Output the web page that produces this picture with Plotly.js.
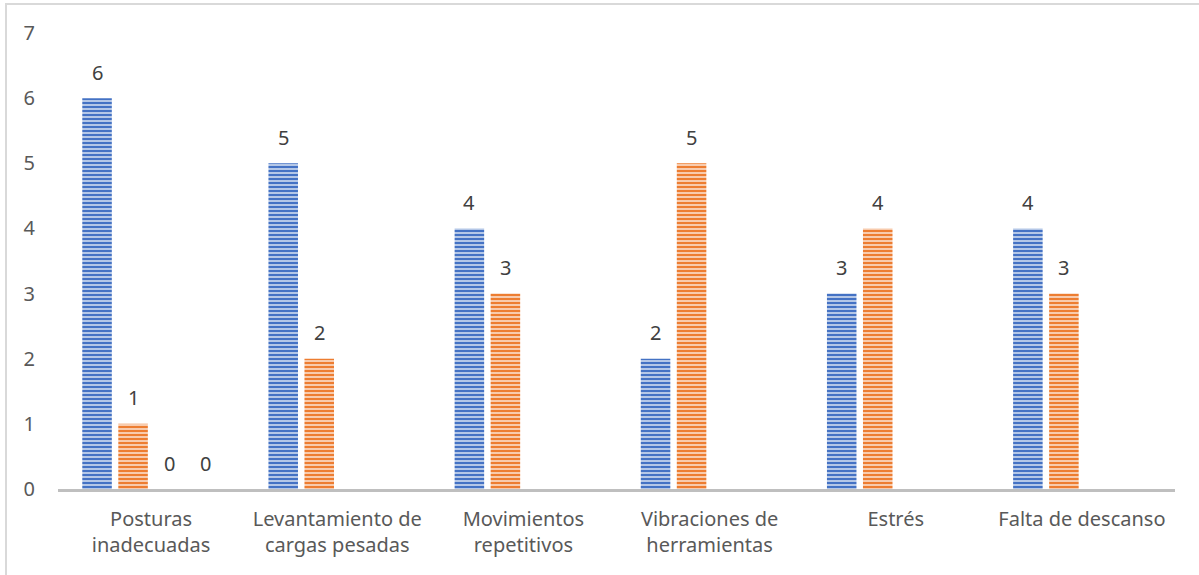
<!DOCTYPE html>
<html>
<head>
<meta charset="utf-8">
<script src="https://cdn.plot.ly/plotly-3.0.1.min.js"></script>
<style>
  html, body { margin: 0; padding: 0; background: #fff; }
  #frame {
    position: absolute; left: 5px; top: 3px; width: 1300px; height: 700px;
    border-left: 2px solid #D9D9D9; border-top: 2px solid #D9D9D9;
  }
  #chart { position: absolute; left: 0; top: 0; width: 1199px; height: 575px; }
</style>
</head>
<body>
<div id="frame"></div>
<div id="chart"></div>
<script>
// categorías del eje x
const categories = [
  'Posturas<br>inadecuadas',
  'Levantamiento de<br>cargas pesadas',
  'Movimientos<br>repetitivos',
  'Vibraciones de<br>herramientas',
  'Estrés',
  'Falta de descanso'
];

// series (las dos últimas solo tienen valor en la primera categoría)
const serie1 = [6, 5, 4, 2, 3, 4];
const serie2 = [1, 2, 3, 5, 4, 3];
const serie3 = [0, null, null, null, null, null];
const serie4 = [0, null, null, null, null, null];

const yTicks = [0, 1, 2, 3, 4, 5, 6, 7];

const seriesList = [
  { name: 'Serie 1', values: serie1, fg: '#4472C4', bg: '#B4C7E7' },
  { name: 'Serie 2', values: serie2, fg: '#ED7D31', bg: '#F8CBAD' },
  { name: 'Serie 3', values: serie3, fg: '#A5A5A5', bg: '#DBDBDB' },
  { name: 'Serie 4', values: serie4, fg: '#FFC000', bg: '#FFE699' }
];

const traces = seriesList.map(s => ({
  type: 'bar',
  name: s.name,
  x: categories,
  y: s.values,
  marker: {
    color: s.bg,
    line: { width: 0 },
    pattern: { shape: '-', size: 4, solidity: 0.5, fgcolor: s.fg, bgcolor: s.bg, fillmode: 'replace' }
  },
  hoverinfo: 'x+y'
}));

// etiquetas de datos encima de cada barra
const slotOffsets = [-54, -18, 18, 54];
const annotations = [];
seriesList.forEach((s, i) => {
  s.values.forEach((v, j) => {
    if (v === null) return;
    annotations.push({
      x: categories[j],
      y: v,
      xref: 'x',
      yref: 'y',
      text: String(v),
      showarrow: false,
      xshift: slotOffsets[i],
      yshift: 26,
      yanchor: 'middle',
      font: { family: 'Noto Sans, sans-serif', size: 20, color: '#404040' }
    });
  });
});

const layout = {
  width: 1199,
  height: 575,
  margin: { l: 58, r: 24, t: 33, b: 86 },
  paper_bgcolor: 'rgba(0,0,0,0)',
  plot_bgcolor: 'rgba(0,0,0,0)',
  barmode: 'group',
  bargap: 0.226,
  bargroupgap: 0.18,
  showlegend: false,
  font: { family: 'Noto Sans, sans-serif', size: 20, color: '#595959' },
  xaxis: {
    type: 'category',
    showline: true,
    linecolor: '#BFBFBF',
    linewidth: 3,
    showgrid: false,
    ticks: '',
    ticklabelstandoff: 10,
    tickfont: { size: 20, color: '#595959' }
  },
  yaxis: {
    range: [0, 7],
    tickvals: yTicks,
    showline: false,
    showgrid: false,
    zeroline: false,
    ticks: '',
    ticklabelstandoff: 22,
    tickfont: { size: 20, color: '#595959' }
  },
  annotations: annotations
};

Plotly.newPlot('chart', traces, layout, { displayModeBar: false, staticPlot: true });
</script>
</body>
</html>
